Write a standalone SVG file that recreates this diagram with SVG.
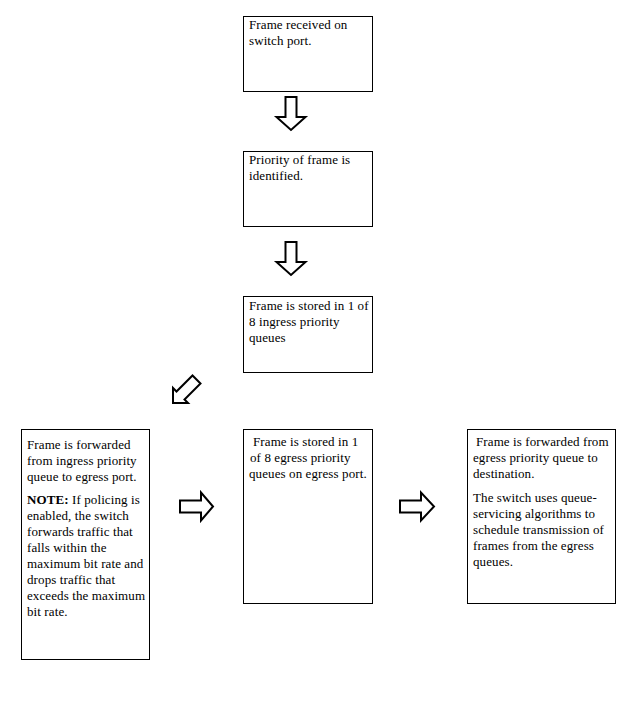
<svg xmlns="http://www.w3.org/2000/svg" width="630" height="719" viewBox="0 0 630 719">
<style>
.box{fill:#fff;stroke:#000;stroke-width:1}
.arr{fill:#fff;stroke:#000;stroke-width:2;stroke-linejoin:miter}
text{font-family:"Liberation Serif","Times New Roman",serif;font-size:13px;fill:#000;letter-spacing:0.1px}
.b{font-weight:bold}
</style>
<rect width="630" height="719" fill="#fff"/>
<g id="n1">
<rect class="box" x="243.5" y="16.5" width="129" height="75"/>
<text x="249" y="29">Frame received on</text>
<text x="249" y="45">switch port.</text>
</g>
<g id="n2">
<rect class="box" x="243.5" y="151.5" width="129" height="75"/>
<text x="249" y="164">Priority of frame is</text>
<text x="249" y="180">identified.</text>
</g>
<g id="n3">
<rect class="box" x="243.5" y="296.5" width="129" height="76"/>
<text x="249" y="310">Frame is stored in 1 of</text>
<text x="249" y="326">8 ingress priority</text>
<text x="249" y="342">queues</text>
</g>
<g id="n4">
<rect class="box" x="21.5" y="429.5" width="128" height="230"/>
<text x="27" y="449">Frame is forwarded</text>
<text x="27" y="465">from ingress priority</text>
<text x="27" y="481">queue to egress port.</text>
<text x="27" y="504"><tspan class="b">NOTE:</tspan> If policing is</text>
<text x="27" y="520">enabled, the switch</text>
<text x="27" y="536">forwards traffic that</text>
<text x="27" y="552">falls within the</text>
<text x="27" y="568">maximum bit rate and</text>
<text x="27" y="584">drops traffic that</text>
<text x="27" y="600">exceeds the maximum</text>
<text x="27" y="616">bit rate.</text>
</g>
<g id="n5">
<rect class="box" x="243.5" y="429.5" width="129" height="174"/>
<text x="253" y="446">Frame is stored in 1</text>
<text x="250" y="462">of 8 egress priority</text>
<text x="249" y="478">queues on egress port.</text>
</g>
<g id="n6">
<rect class="box" x="467.5" y="429.5" width="148" height="174"/>
<text x="476" y="446">Frame is forwarded from</text>
<text x="473" y="462">egress priority queue to</text>
<text x="473" y="478">destination.</text>
<text x="473" y="502">The switch uses queue-</text>
<text x="473" y="518">servicing algorithms to</text>
<text x="473" y="534">schedule transmission of</text>
<text x="473" y="550">frames from the egress</text>
<text x="473" y="566">queues.</text>
</g>
<g id="connectors">
<polygon class="arr" points="285.5,97 296.5,97 296.5,117 305.5,117 291,130 276.5,117 285.5,117"/>
<polygon class="arr" points="285.5,242 296.5,242 296.5,262 305.5,262 291,275 276.5,262 285.5,262"/>
<polygon class="arr" points="173,403 188,403 184.5,399.5 200.5,383.5 192.5,375.5 176.5,391.5 173,388"/>
<polygon class="arr" points="180,500.5 201,500.5 201,492.5 213,506.5 201,520.5 201,512.5 180,512.5"/>
<polygon class="arr" points="400,500.5 421,500.5 421,492.5 434,506.5 421,520.5 421,512.5 400,512.5"/>
</g>
</svg>
